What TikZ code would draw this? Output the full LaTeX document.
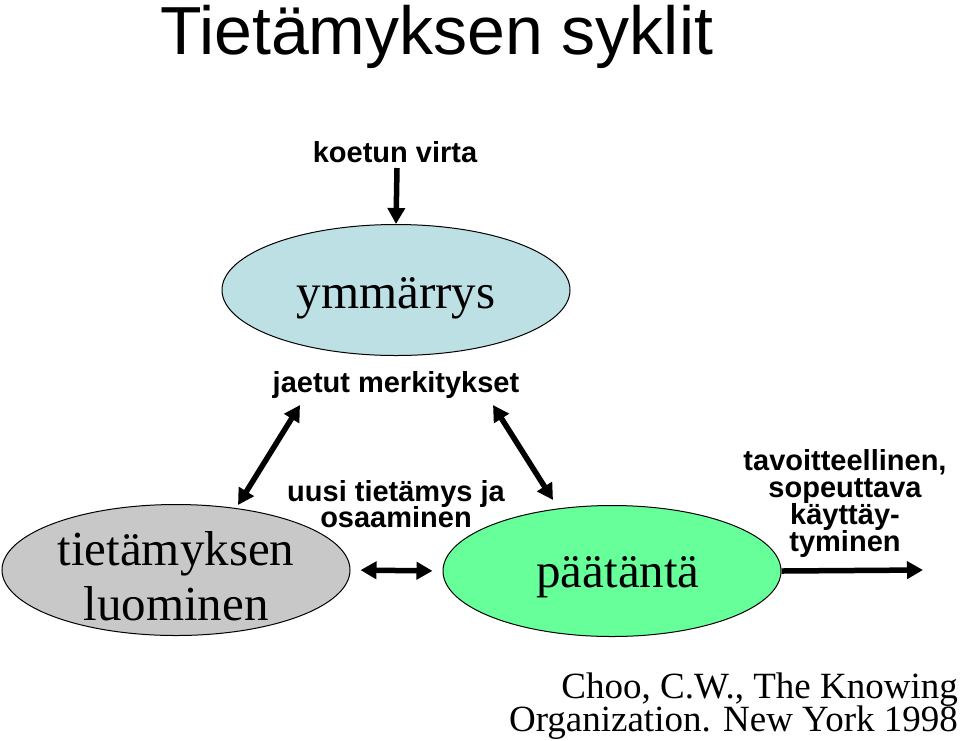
\documentclass[tikz,border=0pt]{standalone}
\usepackage{fontspec}
\setmainfont{Liberation Serif}
\setsansfont{Liberation Sans}
\usetikzlibrary{shapes.geometric,arrows.meta}
\definecolor{ymmfill}{RGB}{189,224,228}
\definecolor{grayfill}{RGB}{200,200,200}
\definecolor{greenfill}{RGB}{102,255,153}
\tikzset{
  oval/.style={ellipse,draw=black,line width=1pt,inner sep=0pt,minimum width=348pt,minimum height=131pt},
  ovaltext/.style={font=\fontsize{49}{54}\selectfont\rmfamily,align=center},
  lbl/.style={font=\fontsize{29}{27}\selectfont\sffamily\bfseries,align=center,inner sep=0pt},
  arr/.style={line width=5.5pt,-{Triangle[length=16pt,width=17pt]}},
  darr/.style={line width=5.5pt,{Triangle[length=16pt,width=17pt]}-{Triangle[length=16pt,width=17pt]}},
}
\begin{document}
\begin{tikzpicture}[x=1pt,y=-1pt]
\useasboundingbox (0,0) rectangle (960,740);
\node[anchor=base west,inner sep=0pt,font=\fontsize{68}{70}\selectfont\sffamily] (title) at (160,54) {Tietämyksen syklit};
\node[lbl,anchor=base] (koetun) at (395,162) {koetun virta};
\node[oval,fill=ymmfill] (ymm) at (396,290) {};
\node[ovaltext,anchor=base] (ymmt) at (396,308) {ymmärrys};
\node[lbl,anchor=base] (jaetut) at (396,392) {jaetut merkitykset};
\node[oval,fill=grayfill] (gray) at (176,570) {};
\node[ovaltext,anchor=base,inner sep=0pt] (grayt1) at (176,565) {tietämyksen};
\node[ovaltext,anchor=base,inner sep=0pt] (grayt2) at (176,620) {luominen};
\node[oval,fill=greenfill,minimum width=338pt] (green) at (612,571) {};
\node[ovaltext,anchor=base] (greent) at (618,587) {päätäntä};
\node[lbl,anchor=base] (uusi1) at (396,501) {uusi tietämys ja};
\node[lbl,anchor=base] (uusi2) at (396,527) {osaaminen};
\node[lbl,anchor=base] (tav1) at (845,470) {tavoitteellinen,};
\node[lbl,anchor=base] (tav2) at (845,497) {sopeuttava};
\node[lbl,anchor=base] (tav3) at (845,524) {käyttäy-};
\node[lbl,anchor=base] (tav4) at (845,551) {tyminen};
\node[anchor=base east,inner sep=0pt,align=right,font=\fontsize{37}{32}\selectfont\rmfamily] (cite1) at (958,698) {Choo, C.W., The Knowing};
\node[anchor=base east,inner sep=0pt,align=right,font=\fontsize{37}{32}\selectfont\rmfamily] (cite2) at (958,731) {Organization. New York 1998};
\coordinate (kstart) at (397,168);
\coordinate (l1) at (300,405);
\coordinate (l2) at (238,505);
\coordinate (r1) at (493,405);
\coordinate (r2) at (553,500);
\coordinate (outend) at (923,570);
\draw[arr] (kstart) -- (ymm.north);
\draw[darr] (l1) -- (l2);
\draw[darr] (r1) -- (r2);
\draw[darr,shorten <=10pt,shorten >=10pt] (gray.east) -- (green.west);
\draw[arr] (green.east) -- (outend);
\end{tikzpicture}
\end{document}
